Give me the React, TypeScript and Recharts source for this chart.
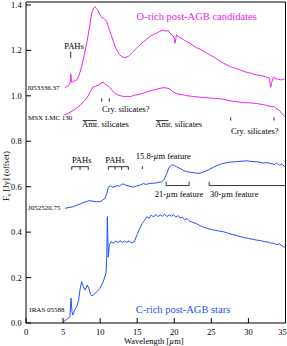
import React from 'react'
import { LineChart, Line, XAxis, YAxis, ReferenceLine, ReferenceDot } from 'recharts'

const SERIF = '"Liberation Serif", "Times New Roman", Times, serif'
const MAGENTA = '#f020f0'
const BLUE = '#2050ff'
const INK = '#000'

// J053336.37 (O-rich, upper spectrum)
const j0533Wave = [5.26, 5.6, 5.9, 6.0, 6.05, 6.15, 6.4, 6.84, 7.1, 7.5, 7.9, 8.27, 8.6, 8.86, 9.1, 9.31, 9.5, 9.62, 9.8, 9.98, 10.2, 10.43, 10.7, 10.88, 11.2, 11.56, 11.9, 12.23, 12.6, 12.9, 13.3, 13.8, 14.3, 14.93, 15.6, 16.28, 16.7, 17.2, 17.6, 18.0, 18.52, 18.9, 19.2, 19.42, 19.8, 20.0, 20.1, 20.3, 20.7, 21.2, 21.6, 22.1, 22.6, 23.0, 23.5, 24.0, 24.4, 24.9, 25.4, 25.8, 26.2, 26.6, 27.1, 27.6, 28.0, 28.5, 28.9, 29.4, 29.9, 30.3, 30.7, 31.1, 31.6, 32.0, 32.5, 32.8, 33.0, 33.15, 33.36, 33.7, 34.1, 34.5, 34.9]
const j0533Flux = [1.036, 1.042, 1.05, 1.075, 1.096, 1.06, 1.062, 1.07, 1.085, 1.128, 1.185, 1.246, 1.31, 1.364, 1.385, 1.392, 1.385, 1.381, 1.37, 1.356, 1.345, 1.342, 1.335, 1.327, 1.295, 1.261, 1.228, 1.202, 1.182, 1.173, 1.168, 1.173, 1.19, 1.21, 1.232, 1.249, 1.261, 1.27, 1.276, 1.283, 1.29, 1.284, 1.288, 1.276, 1.265, 1.252, 1.232, 1.268, 1.258, 1.248, 1.24, 1.232, 1.22, 1.212, 1.205, 1.196, 1.188, 1.178, 1.17, 1.16, 1.152, 1.144, 1.136, 1.128, 1.124, 1.118, 1.114, 1.108, 1.102, 1.1, 1.095, 1.092, 1.09, 1.086, 1.082, 1.078, 1.038, 1.06, 1.082, 1.076, 1.072, 1.07, 1.075]

// MSX LMC 130 (O-rich, lower spectrum)
const msxWave = [5.1, 5.6, 6.2, 6.8, 7.3, 7.8, 8.3, 8.7, 9.0, 9.4, 9.8, 10.2, 10.4, 10.7, 11.0, 11.3, 11.6, 12.0, 12.4, 12.8, 13.2, 13.6, 14.0, 14.4, 14.8, 15.2, 15.8, 16.4, 17.0, 17.6, 18.1, 18.6, 19.0, 19.4, 19.8, 20.3, 20.8, 21.3, 21.8, 22.6, 23.2, 23.8, 24.4, 25.0, 25.6, 26.2, 26.6, 27.1, 27.7, 28.3, 28.9, 29.5, 30.1, 30.6, 31.1, 31.6, 32.2, 32.7, 33.1, 33.4, 33.8, 34.2, 34.5, 34.8, 35.0]
const msxFlux = [0.916, 0.922, 0.932, 0.945, 0.958, 0.975, 0.995, 1.02, 1.038, 1.042, 1.048, 1.058, 1.06, 1.05, 1.046, 1.036, 1.025, 1.01, 1.004, 1.0, 0.996, 0.998, 0.996, 1.0, 1.004, 1.006, 1.012, 1.018, 1.024, 1.028, 1.033, 1.036, 1.034, 1.03, 1.018, 1.01, 1.006, 1.004, 1.0, 0.997, 0.995, 0.993, 0.991, 0.99, 0.988, 0.987, 0.985, 0.981, 0.977, 0.975, 0.972, 0.97, 0.969, 0.968, 0.966, 0.963, 0.96, 0.956, 0.952, 0.953, 0.944, 0.935, 0.922, 0.912, 0.905]

// J052520.75 (C-rich, upper spectrum)
const j0525Wave = [5.26, 5.8, 6.3, 6.8, 7.28, 7.7, 8.2, 8.63, 9.0, 9.5, 9.98, 10.3, 10.66, 10.9, 11.1, 11.4, 11.7, 12.0, 12.3, 12.6, 12.9, 13.12, 13.5, 13.9, 14.2, 14.47, 14.8, 15.1, 15.5, 15.82, 16.2, 16.7, 17.17, 17.6, 18.0, 18.3, 18.6, 19.0, 19.3, 19.65, 20.0, 20.3, 20.8, 21.2, 21.67, 22.1, 22.6, 23.0, 23.47, 24.0, 24.6, 25.3, 26.2, 27.07, 27.7, 28.4, 29.0, 29.77, 30.2, 30.8, 31.4, 32.0, 32.5, 33.0, 33.5, 33.8, 34.2, 34.5, 34.9]
const j0525Flux = [0.505, 0.508, 0.512, 0.518, 0.523, 0.53, 0.535, 0.539, 0.536, 0.534, 0.534, 0.54, 0.549, 0.57, 0.598, 0.604, 0.598, 0.6, 0.605, 0.602, 0.61, 0.612, 0.606, 0.603, 0.6, 0.598, 0.602, 0.605, 0.608, 0.614, 0.61, 0.615, 0.615, 0.617, 0.62, 0.622, 0.63, 0.659, 0.685, 0.696, 0.693, 0.688, 0.68, 0.672, 0.666, 0.664, 0.662, 0.659, 0.659, 0.666, 0.674, 0.686, 0.699, 0.706, 0.709, 0.71, 0.712, 0.714, 0.712, 0.71, 0.709, 0.704, 0.706, 0.702, 0.698, 0.704, 0.694, 0.7, 0.688]

// IRAS 05588 (C-rich, lower spectrum)
const irasWave = [5.03, 5.49, 5.93, 6.07, 6.2, 6.3, 6.6, 6.84, 7.1, 7.3, 7.51, 7.75, 7.96, 8.27, 8.5, 8.7, 8.86, 9.2, 9.6, 9.98, 10.4, 10.79, 10.9, 10.97, 11.1, 11.25, 11.5, 11.8, 12.1, 12.4, 12.7, 13.0, 13.3, 13.6, 13.9, 14.2, 14.6, 15.0, 15.4, 15.7, 16.0, 16.3, 16.6, 16.9, 17.2, 17.5, 17.8, 18.1, 18.4, 18.7, 19.0, 19.3, 19.6, 19.9, 20.2, 20.5, 20.8, 21.1, 21.4, 21.7, 22.0, 22.5, 23.0, 23.5, 24.0, 24.4, 25.0, 25.5, 26.0, 26.6, 27.2, 27.8, 28.3, 28.9, 29.5, 30.0, 30.5, 31.1, 31.6, 32.2, 32.7, 33.0, 33.4, 33.8, 34.2, 34.7, 35.0]
const irasFlux = [0.006, 0.016, 0.028, 0.109, 0.05, 0.035, 0.06, 0.072, 0.1, 0.15, 0.182, 0.16, 0.145, 0.167, 0.15, 0.125, 0.119, 0.126, 0.14, 0.153, 0.18, 0.219, 0.3, 0.468, 0.29, 0.345, 0.358, 0.352, 0.36, 0.354, 0.362, 0.355, 0.36, 0.354, 0.362, 0.352, 0.358, 0.39, 0.42, 0.439, 0.452, 0.468, 0.46, 0.476, 0.466, 0.478, 0.468, 0.476, 0.47, 0.479, 0.468, 0.476, 0.47, 0.477, 0.466, 0.473, 0.462, 0.466, 0.455, 0.46, 0.45, 0.443, 0.437, 0.428, 0.421, 0.417, 0.412, 0.408, 0.405, 0.402, 0.396, 0.39, 0.386, 0.38, 0.376, 0.372, 0.369, 0.365, 0.363, 0.358, 0.356, 0.352, 0.351, 0.345, 0.348, 0.336, 0.334]

const X_MAJOR = [0, 5, 10, 15, 20, 25, 30, 35]
const X_MINOR = [1, 2, 3, 4, 6, 7, 8, 9, 11, 12, 13, 14, 16, 17, 18, 19, 21, 22, 23, 24, 26, 27, 28, 29, 31, 32, 33, 34]
const Y_MAJOR = [0, 0.2, 0.4, 0.6, 0.8, 1.0, 1.2, 1.4]
const Y_MINOR = [0.05, 0.1, 0.15, 0.25, 0.3, 0.35, 0.45, 0.5, 0.55, 0.65, 0.7, 0.75, 0.85, 0.9, 0.95, 1.05, 1.1, 1.15, 1.25, 1.3, 1.35]

// text annotations, placed in data units
const notes = [
  { x: 23.02, y: 1.348, text: 'O-rich post-AGB candidates', color: MAGENTA, size: 10.5, anchor: 'middle' },
  { x: 21.18, y: 0.06, text: 'C-rich post-AGB stars', color: BLUE, size: 10.5, anchor: 'middle' },
  { x: 6.47, y: 1.217, text: 'PAHs', color: INK, size: 8.5, anchor: 'middle' },
  { x: 13.46, y: 0.941, text: 'Cry. silicates?', color: INK, size: 8.5, anchor: 'middle' },
  { x: 10.72, y: 0.875, text: 'Amr. silicates', color: INK, size: 8.5, anchor: 'middle' },
  { x: 20.6, y: 0.875, text: 'Amr. silicates', color: INK, size: 8.5, anchor: 'middle' },
  { x: 30.86, y: 0.842, text: 'Cry. silicates?', color: INK, size: 8.5, anchor: 'middle' },
  { x: 7.51, y: 0.718, text: 'PAHs', color: INK, size: 8.5, anchor: 'middle' },
  { x: 12.0, y: 0.718, text: 'PAHs', color: INK, size: 8.5, anchor: 'middle' },
  { x: 18.52, y: 0.732, text: '15.8-µm feature', color: INK, size: 8.5, anchor: 'middle' },
  { x: 20.64, y: 0.567, text: '21-µm feature', color: INK, size: 8.5, anchor: 'middle' },
  { x: 28.08, y: 0.567, text: '30-µm feature', color: INK, size: 8.5, anchor: 'middle' },
  { x: 0.14, y: 1.035, text: 'J053336.37', color: INK, size: 7, anchor: 'start' },
  { x: 0.27, y: 0.903, text: 'MSX LMC 130', color: INK, size: 7, anchor: 'start' },
  { x: 0.27, y: 0.509, text: 'J052520.75', color: INK, size: 7, anchor: 'start' },
  { x: 0.45, y: 0.057, text: 'IRAS 05588', color: INK, size: 7, anchor: 'start' }
]

// feature markers and brackets: [x1, y1, x2, y2]
const marks = [
  [6.03, 1.195, 6.03, 1.166],
  [10.2, 0.989, 10.2, 0.974],
  [11.24, 0.989, 11.24, 0.974],
  [7.65, 0.891, 9.54, 0.891],
  [17.53, 0.891, 19.19, 0.891],
  [27.6, 0.906, 27.6, 0.891],
  [33.45, 0.906, 33.45, 0.891],
  [6.17, 0.688, 8.4, 0.688],
  [6.17, 0.688, 6.17, 0.674],
  [7.29, 0.688, 7.29, 0.674],
  [8.4, 0.688, 8.4, 0.674],
  [11.1, 0.688, 13.8, 0.688],
  [11.1, 0.688, 11.1, 0.674],
  [12.0, 0.688, 12.0, 0.674],
  [12.9, 0.688, 12.9, 0.674],
  [13.8, 0.688, 13.8, 0.674],
  [15.7, 0.691, 15.7, 0.678],
  [18.9, 0.605, 22.0, 0.605],
  [18.9, 0.605, 18.9, 0.622],
  [22.0, 0.605, 22.0, 0.622],
  [24.7, 0.605, 35, 0.605],
  [24.7, 0.605, 24.7, 0.622]
]

type Pt = { w: number; f: number }

function zip(wave: number[], flux: number[]): Pt[] {
  return wave.map((w, i) => ({ w, f: flux[i] }))
}

function withMu(text: string) {
  const parts = text.split('µ')
  return parts.map((p, i) => (
    <React.Fragment key={i}>
      {i > 0 && <tspan fontStyle="italic">µ</tspan>}
      {p}
    </React.Fragment>
  ))
}

function noteLabel(text: string, color: string, size: number, anchor: string) {
  return (props: any) => {
    const vb = props.viewBox || { x: 0, y: 0 }
    return (
      <text x={vb.x} y={vb.y + size * 0.32} textAnchor={anchor} fontSize={size} fontFamily={SERIF} fill={color}>
        {withMu(text)}
      </text>
    )
  }
}

const xTitle = (props: any) => {
  const vb = props.viewBox || { x: 26, y: 323, width: 259.5 }
  return (
    <text x={vb.x + vb.width / 2 - 2} y={vb.y + 21.3} textAnchor="middle" fontSize={8.5} fontFamily={SERIF} fill={INK}>
      {withMu('Wavelength [µm]')}
    </text>
  )
}

const yTitle = () => {
  const cx = 6.7
  const cy = 176
  return (
    <text x={cx} y={cy + 2.8} textAnchor="middle" fontSize={8.5} fontFamily={SERIF} fill={INK} transform={`rotate(-90, ${cx}, ${cy})`}>
      F<tspan fontSize={6} dy={2}>ν</tspan>
      <tspan dy={-2}> [Jy] (offset)</tspan>
    </text>
  )
}

// bottom tick labels; the last one is nudged in so it stays on the page
const xTick = (props: any) => {
  const v = props.payload?.value
  const shift = v === 35 ? -3 : 0
  return (
    <text x={props.x + shift} y={props.y} dy="0.71em" textAnchor="middle" fontSize={8.5} fontFamily={SERIF} fill={INK}>
      {v}
    </text>
  )
}

const tickFont = { fill: INK, fontSize: 8.5, fontFamily: SERIF }

export default function App() {
  const series = [
    { data: zip(j0533Wave, j0533Flux), color: MAGENTA },
    { data: zip(msxWave, msxFlux), color: MAGENTA },
    { data: zip(j0525Wave, j0525Flux), color: BLUE },
    { data: zip(irasWave, irasFlux), color: BLUE }
  ]

  return (
    <div style={{ position: 'absolute', left: 0, top: 0, width: 287, height: 346, background: '#fff' }}>
      <LineChart width={287} height={346} margin={{ top: 2, right: 1.5, bottom: 0, left: 0 }}>
        <XAxis
          xAxisId="x"
          dataKey="w"
          type="number"
          domain={[0, 35]}
          allowDataOverflow
          ticks={X_MAJOR}
          interval={0}
          height={23}
          tickSize={-5}
          tickMargin={11}
          stroke={INK}
          tick={xTick}
          label={xTitle}
        />
        <XAxis xAxisId="xMinor" type="number" domain={[0, 35]} allowDataOverflow ticks={X_MINOR} interval={0} mirror tickSize={3} tick={false} axisLine={false} stroke={INK} />
        <XAxis xAxisId="xTop" orientation="top" type="number" domain={[0, 35]} allowDataOverflow ticks={X_MAJOR} interval={0} mirror tickSize={5} tick={false} stroke={INK} />
        <XAxis xAxisId="xTopMinor" orientation="top" type="number" domain={[0, 35]} allowDataOverflow ticks={X_MINOR} interval={0} mirror tickSize={3} tick={false} axisLine={false} stroke={INK} />
        <YAxis
          yAxisId="y"
          type="number"
          domain={[0, 1.413]}
          allowDataOverflow
          ticks={Y_MAJOR}
          interval={0}
          width={26}
          tickSize={-5}
          tickMargin={9.3}
          stroke={INK}
          tick={tickFont}
          tickFormatter={(v: number) => v.toFixed(1)}
          label={yTitle}
        />
        <YAxis yAxisId="yMinor" type="number" domain={[0, 1.413]} allowDataOverflow ticks={Y_MINOR} interval={0} mirror tickSize={3} tick={false} axisLine={false} stroke={INK} />
        <YAxis yAxisId="yRight" orientation="right" type="number" domain={[0, 1.413]} allowDataOverflow ticks={Y_MAJOR} interval={0} mirror tickSize={5} tick={false} stroke={INK} />
        <YAxis yAxisId="yRightMinor" orientation="right" type="number" domain={[0, 1.413]} allowDataOverflow ticks={Y_MINOR} interval={0} mirror tickSize={3} tick={false} axisLine={false} stroke={INK} />

        {series.map((s, i) => (
          <Line
            key={i}
            xAxisId="x"
            yAxisId="y"
            data={s.data}
            dataKey="f"
            type="linear"
            stroke={s.color}
            strokeWidth={1}
            dot={false}
            isAnimationActive={false}
          />
        ))}

        {marks.map((m, i) => (
          <ReferenceLine
            key={`m${i}`}
            xAxisId="x"
            yAxisId="y"
            segment={[{ x: m[0], y: m[1] }, { x: m[2], y: m[3] }]}
            stroke={INK}
            strokeWidth={0.8}
            ifOverflow="visible"
          />
        ))}

        {notes.map((n, i) => (
          <ReferenceDot
            key={`n${i}`}
            xAxisId="x"
            yAxisId="y"
            x={n.x}
            y={n.y}
            r={0}
            fill="none"
            stroke="none"
            ifOverflow="visible"
            label={noteLabel(n.text, n.color, n.size, n.anchor)}
          />
        ))}
      </LineChart>
    </div>
  )
}
